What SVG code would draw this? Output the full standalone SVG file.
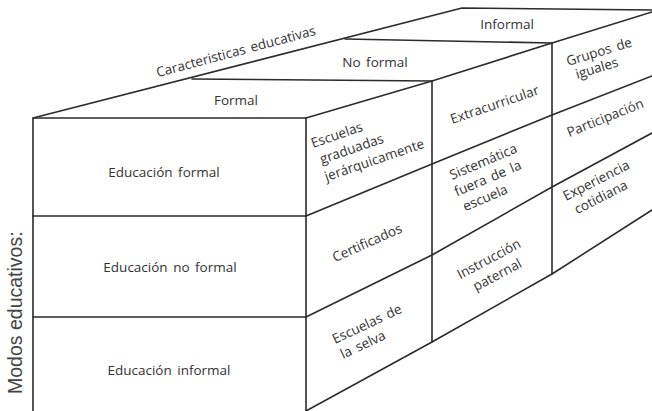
<svg xmlns="http://www.w3.org/2000/svg" width="652" height="411" viewBox="0 0 652 411">
  <style>
    .ln { fill: none; stroke: #2b2b2b; stroke-width: 1.6; stroke-linejoin: round; stroke-linecap: round; }
    .t { font-family: "Open Sans", "DejaVu Sans", sans-serif; font-size: 13.5px; fill: #333; word-spacing: 2px; }
    .m { font-family: "Liberation Sans", Arial, sans-serif; font-size: 19.5px; fill: #444; }
  </style>
  <rect width="652" height="411" fill="#fff"/>

  <!-- block outline and cell dividers -->
  <g id="connectors" class="ln">
    <!-- front face -->
    <path d="M33,411 V118 H306 V411"/>
    <path d="M33,216 H306 M33,317 H306"/>
    <!-- top face -->
    <path d="M33,118 L462,8 L652,10"/>
    <path d="M192,79 L432,81 M345,39 L552,43"/>
    <!-- right face -->
    <path d="M306,118 L432,81 L552,43 L652,12"/>
    <path d="M432,81 V342 M552,43 V274"/>
    <path d="M306,216 L432,164 L552,115 L652,76"/>
    <path d="M306,317 L432,255 L552,187 L652,133"/>
    <path d="M306,411 L432,342 L552,274 L652,210"/>
  </g>

  <!-- axis labels -->
  <g id="axis-caracteristicas">
    <text class="t" text-anchor="middle" transform="translate(237,56) rotate(-15)">Caracteristicas educativas</text>
  </g>
  <g id="axis-modos">
    <text class="m" transform="translate(22,394) rotate(-90)">Modos educativos:</text>
  </g>

  <!-- top face: characteristics -->
  <g id="top-formal"><text class="t" x="236" y="105" text-anchor="middle">Formal</text></g>
  <g id="top-no-formal"><text class="t" x="375" y="67" text-anchor="middle">No formal</text></g>
  <g id="top-informal"><text class="t" x="507" y="29" text-anchor="middle">Informal</text></g>

  <!-- front face: modes -->
  <g id="front-formal"><text class="t" x="164" y="177" text-anchor="middle">Educación formal</text></g>
  <g id="front-no-formal"><text class="t" x="170" y="272" text-anchor="middle">Educación no formal</text></g>
  <g id="front-informal"><text class="t" x="169" y="375" text-anchor="middle">Educación informal</text></g>

  <!-- right face: cells -->
  <g id="cell-formal-formal">
    <text class="t" transform="translate(313,148) rotate(-19)"><tspan x="0" y="0">Escuelas</tspan><tspan x="3" y="18">graduadas</tspan><tspan x="2" y="36">jerárquicamente</tspan></text>
  </g>
  <g id="cell-noformal-formal">
    <text class="t" text-anchor="middle" transform="translate(369,247) rotate(-24)">Certificados</text>
  </g>
  <g id="cell-informal-formal">
    <text class="t" transform="translate(335,344) rotate(-25)"><tspan x="0" y="0">Escuelas de</tspan><tspan x="1" y="17">la selva</tspan></text>
  </g>
  <g id="cell-formal-noformal">
    <text class="t" text-anchor="middle" transform="translate(496,109) rotate(-19)">Extracurricular</text>
  </g>
  <g id="cell-noformal-noformal">
    <text class="t" transform="translate(452,180) rotate(-23)"><tspan x="0" y="0">Sistemática</tspan><tspan x="-2" y="17">fuera de la</tspan><tspan x="0" y="34">escuela</tspan></text>
  </g>
  <g id="cell-informal-noformal">
    <text class="t" text-anchor="middle" transform="translate(491,263) rotate(-28)"><tspan x="0" y="0">Instrucción</tspan><tspan x="0" y="18">paternal</tspan></text>
  </g>
  <g id="cell-formal-informal">
    <text class="t" transform="translate(568,66) rotate(-17)"><tspan x="0" y="0">Grupos de</tspan><tspan x="5" y="15">iguales</tspan></text>
  </g>
  <g id="cell-noformal-informal">
    <text class="t" text-anchor="middle" transform="translate(607,122) rotate(-22)">Participación</text>
  </g>
  <g id="cell-informal-informal">
    <text class="t" transform="translate(566,201) rotate(-27)"><tspan x="0" y="0">Experiencia</tspan><tspan x="4" y="17">cotidiana</tspan></text>
  </g>
</svg>
